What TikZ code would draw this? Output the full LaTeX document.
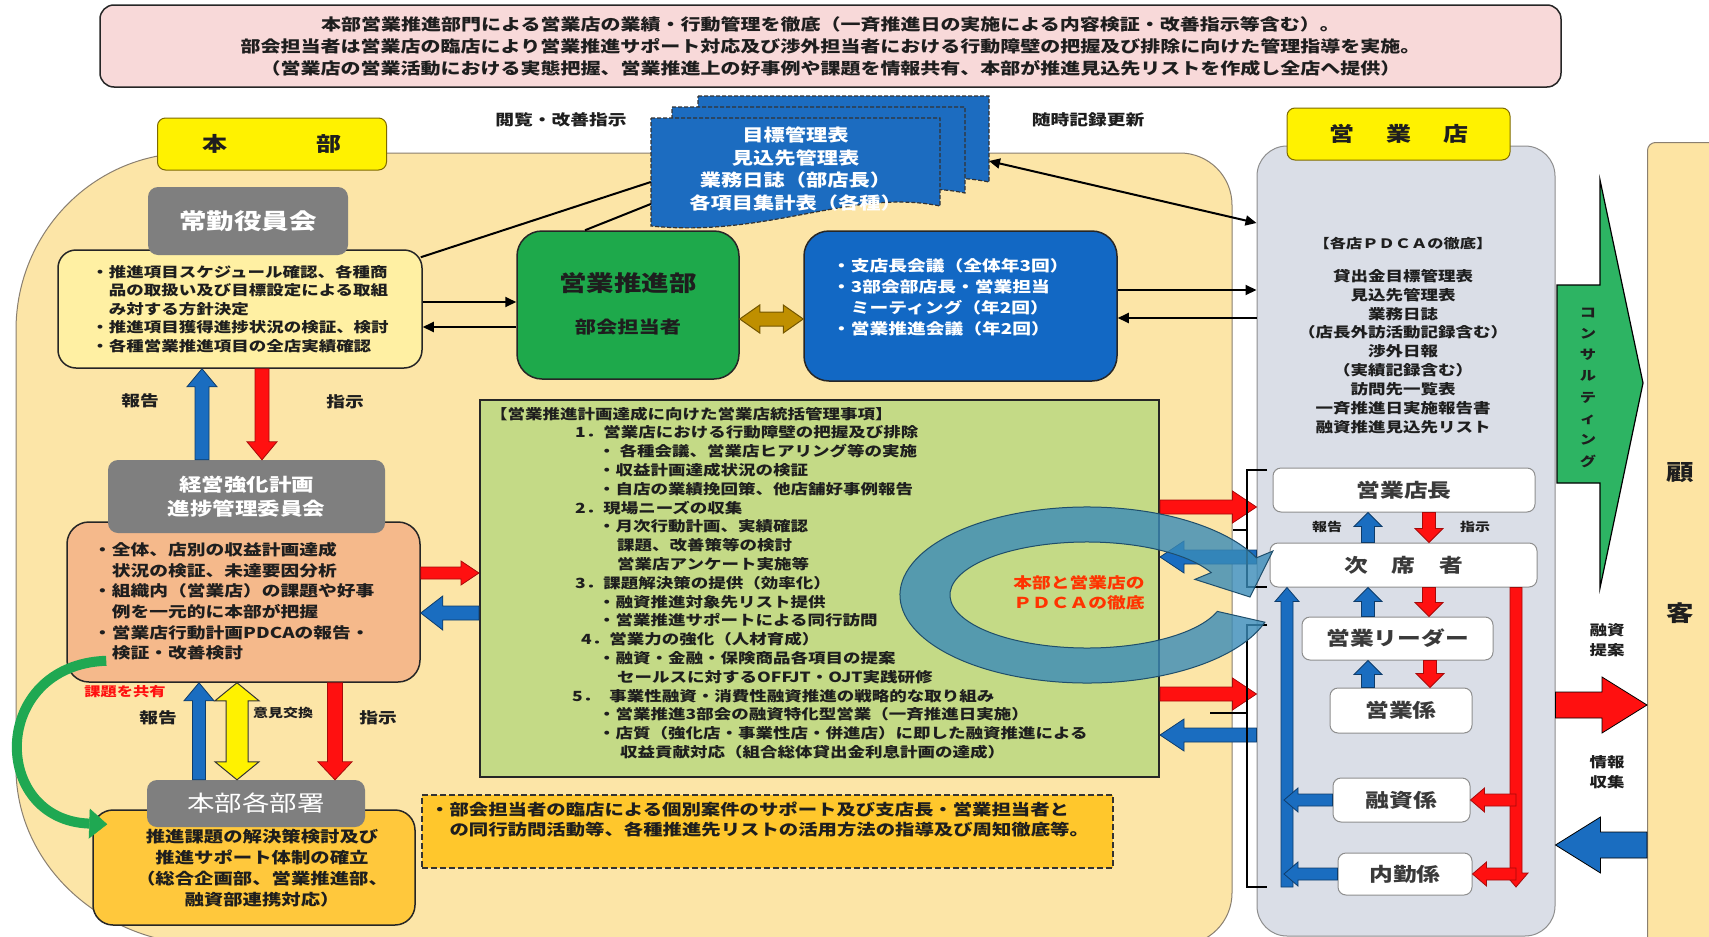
\documentclass[tikz,border=0pt]{standalone}
\usepackage{fontspec}
\setmainfont{Noto Sans CJK JP}[FakeStretch=1.25]
\usetikzlibrary{arrows.meta,calc}

\definecolor{pinkbg}{HTML}{F8D9D9}
\definecolor{hbbeige}{HTML}{FCE5A7}
\definecolor{hbedge}{HTML}{8A7F70}
\definecolor{ykfill}{HTML}{FFF0A3}
\definecolor{boardgray}{HTML}{7F7F7F}
\definecolor{eigyogreen}{HTML}{1EA94B}
\definecolor{kaigiblue}{HTML}{1268C4}
\definecolor{dblgold}{HTML}{BF8F00}
\definecolor{docblue}{HTML}{1C6CC0}
\definecolor{panelgreen}{HTML}{C4DA86}
\definecolor{hyokaorange}{HTML}{F5B98B}
\definecolor{kadaigold}{HTML}{FFC83C}
\definecolor{rintengold}{HTML}{FFC72C}
\definecolor{tenpogray}{HTML}{DADEE7}
\definecolor{tenpoedge}{HTML}{8E8E8E}
\definecolor{kokyakubg}{HTML}{FDE4A3}
\definecolor{consultgreen}{HTML}{2DB463}
\definecolor{arrred}{HTML}{FF1010}
\definecolor{arrblue}{HTML}{1A6DC0}
\definecolor{ringblue}{HTML}{3A8BB8}
\definecolor{ringedge}{HTML}{1F4E6B}
\definecolor{pdcared}{HTML}{FF3300}
\definecolor{kyoyugreen}{HTML}{1FA852}
\definecolor{ink}{HTML}{1E1E1E}
\definecolor{staffink}{HTML}{3A3A3A}
\definecolor{tagedge}{HTML}{7F6A00}

\newcommand\fsz[2]{\fontsize{#1}{#2}\selectfont}

% block arrow: [style]{from}{to}{shaft half}{head half}{head length}
\newcommand\blockarrow[6][]{%
    \path (#2) coordinate (ba-s) (#3) coordinate (ba-e);
    \path ($(ba-e)!#6pt!(ba-s)$) coordinate (ba-h);
    \filldraw[#1] ($(ba-s)!#4pt!90:(ba-e)$) -- ($(ba-h)!#4pt!90:(ba-e)$)
        -- ($(ba-h)!#5pt!90:(ba-e)$) -- (ba-e) -- ($(ba-h)!#5pt!-90:(ba-e)$)
        -- ($(ba-h)!#4pt!-90:(ba-e)$) -- ($(ba-s)!#4pt!-90:(ba-e)$) -- cycle;}

% double block arrow
\newcommand\dblarrow[6][]{%
    \path (#2) coordinate (ba-s) (#3) coordinate (ba-e);
    \path ($(ba-s)!#6pt!(ba-e)$) coordinate (ba-h1) ($(ba-e)!#6pt!(ba-s)$) coordinate (ba-h2);
    \filldraw[#1] (ba-s) -- ($(ba-h1)!#5pt!90:(ba-e)$) -- ($(ba-h1)!#4pt!90:(ba-e)$)
        -- ($(ba-h2)!#4pt!90:(ba-e)$) -- ($(ba-h2)!#5pt!90:(ba-e)$) -- (ba-e)
        -- ($(ba-h2)!#5pt!-90:(ba-e)$) -- ($(ba-h2)!#4pt!-90:(ba-e)$)
        -- ($(ba-h1)!#4pt!-90:(ba-e)$) -- ($(ba-h1)!#5pt!-90:(ba-e)$) -- cycle;}

% one sheet of the document stack
\newcommand\docpage[4]{%
    \filldraw[doc] (#1,#2) -- (#3,#2) -- (#3,#4-20)
        .. controls ({#3-0.3*(#3-#1)},#4-38) and ({#1+0.4*(#3-#1)},#4+12) .. (#1,#4) -- cycle;}

\tikzset{
    txt/.style 2 args={inner sep=0pt, text=ink, font=\bfseries\fontsize{#1}{#2}\selectfont},
    banner/.style={draw=black!85, line width=1.5pt, rounded corners=14pt, fill=pinkbg,
        align=center, inner sep=0pt, text=ink, font=\bfseries\fsz{16}{22}},
    tag/.style={draw=tagedge, line width=1pt, fill=yellow, rounded corners=8pt, inner sep=0pt,
        text=ink, font=\bfseries\fsz{20}{24}},
    box/.style={draw=black!85, line width=1.5pt, inner sep=0pt, text=ink},
    graybox/.style={fill=boardgray, rounded corners=10pt, inner sep=0pt, text=white, align=center},
    staff/.style={draw=tenpoedge, fill=white, rounded corners=8pt, line width=1pt, inner sep=0pt,
        text=staffink, font=\bfseries\fsz{19}{22}},
    doc/.style={fill=docblue, draw=black!80, line width=1.2pt, dash pattern=on 4pt off 2pt},
    dashedbox/.style={draw=black!80, line width=1.5pt, dash pattern=on 6pt off 3pt,
        fill=rintengold, inner sep=0pt},
    conn/.style={line width=2pt, -{Triangle[length=11pt,width=10pt]}},
    conn2/.style={line width=2pt, {Triangle[length=11pt,width=10pt]}-{Triangle[length=11pt,width=10pt]}},
    link/.style={line width=2pt},
    redarr/.style={fill=arrred, draw=arrred!65!black, line width=0.8pt},
    bluearr/.style={fill=arrblue, draw=arrblue!55!black, line width=0.8pt},
    yellowarr/.style={fill=yellow, draw=black!80, line width=1pt},
    goldarr/.style={fill=dblgold, draw=dblgold!60!black, line width=1pt},
    kyoyu/.style={draw=kyoyugreen, line width=10pt,
        -{Triangle[length=18pt,width=30pt,line width=0.5pt]}},
    bracket/.style={line width=1.5pt},
    pdca/.style={fill=ringblue, fill opacity=0.8, draw=ringedge, line width=1pt},
    consult/.style={fill=consultgreen, draw=black, line width=1.2pt}
}

\begin{document}
\begin{tikzpicture}[x=1pt, y=-1pt]
    \useasboundingbox (0,0) rectangle (1709,937);
    \fill[white] (0,0) rectangle (1709,937);

    % Policy banner
    \node[banner, minimum width=1461, minimum height=82] (policy) at (830.5,46)
        {本部営業推進部門による営業店の業績・行動管理を徹底（一斉推進日の実施による内容検証・改善指示等含む）。\\
         部会担当者は営業店の臨店により営業推進サポート対応及び渉外担当者における行動障壁の把握及び排除に向けた管理指導を実施。\\
         （営業店の営業活動における実態把握、営業推進上の好事例や課題を情報共有、本部が推進見込先リストを作成し全店へ提供）};

    % Head office area
    \filldraw[fill=hbbeige, draw=hbedge, line width=1pt]
        (190,153) -- (1180,153) arc[start angle=270, end angle=360, radius=52]
        -- (1232,893) arc[start angle=0, end angle=90, radius=52]
        -- (210,945) arc[start angle=90, end angle=180, x radius=194, y radius=177]
        -- (16,330) arc[start angle=180, end angle=270, x radius=174, y radius=177] -- cycle;

    % Shop column and customer column
    \node[draw=tenpoedge, fill=tenpogray, line width=1pt, rounded corners=30pt, inner sep=0pt,
        minimum width=298, minimum height=790] (tenpo) at (1406,541) {};
    \node[draw=hbedge, fill=kokyakubg, line width=1pt, rounded corners=8pt, inner sep=0pt,
        minimum width=90, minimum height=830, anchor=north west] (kokyaku) at (1647,142) {};

    % Document stack
    \docpage{698}{96}{989}{202}
    \docpage{672}{107}{965}{213}
    \docpage{651}{118}{940}{226}
    \node[txt={17}{22.7}, text=white, align=center, minimum width=289, minimum height=108] (docs)
        at (795.5,169) {目標管理表\\見込先管理表\\業務日誌（部店長）\\各項目集計表（各種）};
    \coordinate (docback) at (989,161);
    \node[txt={15}{18}] (etsuran) at (561,120) {閲覧・改善指示};
    \node[txt={15}{18}] (zuiji) at (1088,120) {随時記録更新};

    % Tags
    \node[tag, minimum width=229, minimum height=52] (honbu) at (272,144) {本\hspace{89pt}部};
    \node[tag, minimum width=223, minimum height=52] (tenpolbl) at (1398.5,134)
        {営\hspace{32pt}業\hspace{32pt}店};

    % Executive board
    \node[box, fill=ykfill, rounded corners=18pt, minimum width=364, minimum height=118,
        align=left, font=\bfseries\fsz{14}{18.5}] (shishin) at (240,309)
        {・推進項目スケジュール確認、各種商\\
         　品の取扱い及び目標設定による取組\\
         　み対する方針決定\\
         ・推進項目獲得進捗状況の検証、検討\\
         ・各種営業推進項目の全店実績確認};
    \node[graybox, minimum width=200, minimum height=68, font=\bfseries\fsz{22}{26}] (jokin)
        at (248,221) {常勤役員会};

    % Sales promotion dept and meetings
    \node[box, fill=eigyogreen, rounded corners=25pt, minimum width=222, minimum height=148] (eigyo)
        at (628,305) {};
    \node[txt={22}{26}] (eigyo-t) at (628,283) {営業推進部};
    \node[txt={17}{20}] (bukai-t) at (628,327) {部会担当者};
    \node[box, fill=kaigiblue, rounded corners=25pt, minimum width=313, minimum height=150] (kaigi)
        at (960.5,306) {};
    \node[txt={15}{21}, text=white, align=left, anchor=west] (kaigi-t) at (832,297.5)
        {・支店長会議（全体年3回）\\
         ・3部会部店長・営業担当\\
         　ミーティング（年2回）\\
         ・営業推進会議（年2回）};
    \dblarrow[goldarr]{eigyo.east |- 0,319}{kaigi.west |- 0,319}{7}{14}{20}

    % Connectors
    \draw[conn] (shishin.east |- 0,302) -- (eigyo.west |- 0,302);
    \draw[conn] (eigyo.west |- 0,327) -- (shishin.east |- 0,327);
    \draw[conn] (kaigi.east |- 0,290) -- (tenpo.west |- 0,290);
    \draw[conn] (tenpo.west |- 0,318) -- (kaigi.east |- 0,318);
    \draw[link] ($(shishin.north east)+(-2,8)$) -- (docs.west |- 0,182);
    \draw[link] ($(eigyo.north)+(-43,0)$) -- (docs.west |- 0,204);
    \draw[conn2] (docback) -- (tenpo.west |- 0,223);

    % Management items panel
    \node[box, fill=panelgreen, line width=2pt, minimum width=679, minimum height=377] (kanri)
        at (819.5,588.5) {};
    \node[txt={14}{18.8}, align=left, anchor=west] (kanri-t) at (490,583)
        {【営業推進計画達成に向けた営業店統括管理事項】\\
         \hspace*{85pt}1．営業店における行動障壁の把握及び排除\\
         \hspace*{108pt}・ 各種会議、営業店ヒアリング等の実施\\
         \hspace*{108pt}・収益計画達成状況の検証\\
         \hspace*{108pt}・自店の業績挽回策、他店舗好事例報告\\
         \hspace*{85pt}2．現場ニーズの収集\\
         \hspace*{108pt}・月次行動計画、実績確認\\
         \hspace*{127pt}課題、改善策等の検討\\
         \hspace*{127pt}営業店アンケート実施等\\
         \hspace*{85pt}3．課題解決策の提供（効率化）\\
         \hspace*{108pt}・融資推進対象先リスト提供\\
         \hspace*{108pt}・営業推進サポートによる同行訪問\\
         \hspace*{91pt}4．営業力の強化（人材育成）\\
         \hspace*{108pt}・融資・金融・保険商品各項目の提案\\
         \hspace*{127pt}セールスに対するOFFJT・OJT実践研修\\
         \hspace*{82pt}5．\hspace{9pt}事業性融資・消費性融資推進の戦略的な取り組み\\
         \hspace*{108pt}・営業推進3部会の融資特化型営業（一斉推進日実施）\\
         \hspace*{108pt}・店質（強化店・事業性店・併進店）に即した融資推進による\\
         \hspace*{130pt}収益貢献対応（組合総体貸出金利息計画の達成）};

    % Progress committee
    \node[box, fill=hyokaorange, rounded corners=22pt, minimum width=353, minimum height=160] (hyoka)
        at (243.5,602) {};
    \node[txt={15}{20.6}, align=left, anchor=west] (hyoka-t) at (93,601.5)
        {・全体、店別の収益計画達成\\
         　状況の検証、未達要因分析\\
         ・組織内（営業店）の課題や好事\\
         　例を一元的に本部が把握\\
         ・営業店行動計画PDCAの報告・\\
         　検証・改善検討};
    \node[graybox, minimum width=277, minimum height=73, font=\bfseries\fsz{18}{24}] (keiei)
        at (246.5,496.5) {経営強化計画\\進捗管理委員会};
    \blockarrow[bluearr]{202,0 |- keiei.north}{202,0 |- shishin.south}{7}{15}{18}
    \blockarrow[redarr]{262,0 |- shishin.south}{262,0 |- keiei.north}{7}{15}{18}
    \node[txt={15}{18}] (hokoku1) at (140,401) {報告};
    \node[txt={15}{18}] (shiji1) at (345,402) {指示};
    \blockarrow[redarr]{hyoka.east |- 0,573}{kanri.west |- 0,573}{6}{12}{18}
    \blockarrow[bluearr]{kanri.west |- 0,613}{hyoka.east |- 0,613}{7}{17}{22}

    % Head office departments
    \node[box, fill=kadaigold, rounded corners=20pt, minimum width=322, minimum height=115] (kadai)
        at (254,867.5) {};
    \node[txt={15.5}{21}, align=center] (kadai-t) at (262,868)
        {推進課題の解決策検討及び\\推進サポート体制の確立\\（総合企画部、営業推進部、\\融資部連携対応）};
    \node[graybox, minimum width=218, minimum height=47, font=\mdseries\fsz{22}{26}] (kakubu)
        at (256,803.5) {本部各部署};
    \blockarrow[bluearr]{199,0 |- kakubu.north}{199,0 |- hyoka.south}{6.5}{15}{18}
    \dblarrow[yellowarr]{237,0 |- hyoka.south}{237,0 |- kakubu.north}{11}{22}{18}
    \blockarrow[redarr]{335,0 |- hyoka.south}{335,0 |- kakubu.north}{7.5}{17}{18}
    \node[txt={15}{18}] (hokoku2) at (158,718) {報告};
    \node[txt={12}{14}] (iken) at (283,713) {意見交換};
    \node[txt={15}{18}] (shiji2) at (378,718) {指示};
    \draw[kyoyu] ($(hyoka.south west)+(40,-22)$) .. controls (-10,665) and (-10,820) .. ($(kadai.north west)+(15,15)$);
    \node[txt={13}{16}, text=arrred] (kyoyu-t) at (125,692) {課題を共有};

    % Support note
    \node[dashedbox, minimum width=691, minimum height=73] (rinten) at (767.5,831.5) {};
    \node[txt={15.5}{20}, align=left, anchor=west] (rinten-t) at (430,820)
        {・部会担当者の臨店による個別案件のサポート及び支店長・営業担当者と\\
         　の同行訪問活動等、各種推進先リストの活用方法の指導及び周知徹底等。};

    % Panel <-> shop
    \blockarrow[redarr]{kanri.east |- 0,507}{tenpo.west |- 0,507}{7}{16}{24}
    \blockarrow[bluearr]{tenpo.west |- 0,557}{kanri.east |- 0,557}{7}{16}{24}
    \blockarrow[redarr]{kanri.east |- 0,694}{tenpo.west |- 0,694}{7}{16}{24}
    \blockarrow[bluearr]{tenpo.west |- 0,735}{kanri.east |- 0,735}{7}{16}{24}

    % Shop contents
    \node[txt={13}{16}] (pdca-h) at (1403,244) {【各店ＰＤＣＡの徹底】};
    \node[txt={14}{18.9}, align=center] (tools) at (1403,351.5)
        {貸出金目標管理表\\見込先管理表\\業務日誌\\（店長外訪活動記録含む）\\渉外日報\\（実績記録含む）\\訪問先一覧表\\一斉推進日実施報告書\\融資推進見込先リスト};

    \node[staff, minimum width=262, minimum height=44] (tencho) at (1404,490) {営業店長};
    \node[staff, minimum width=267, minimum height=44] (jiseki) at (1403.5,565) {次　席　者};
    \node[staff, minimum width=191, minimum height=43] (leader) at (1397.5,638.5) {営業リーダー};
    \node[staff, minimum width=142, minimum height=45] (gakari) at (1401,710.5) {営業係};
    \node[staff, minimum width=137, minimum height=44] (yushi) at (1401.5,800) {融資係};
    \node[staff, minimum width=134, minimum height=42] (naikin) at (1405,874) {内勤係};

    \blockarrow[bluearr]{1368,0 |- jiseki.north}{1368,0 |- tencho.south}{6.5}{14}{14}
    \blockarrow[redarr]{1429,0 |- tencho.south}{1429,0 |- jiseki.north}{6.5}{14}{14}
    \blockarrow[bluearr]{1368,0 |- leader.north}{1368,0 |- jiseki.south}{6.5}{14}{14}
    \blockarrow[redarr]{1429,0 |- jiseki.south}{1429,0 |- leader.north}{6.5}{14}{14}
    \blockarrow[bluearr]{1368,0 |- gakari.north}{1368,0 |- leader.south}{6.5}{14}{14}
    \blockarrow[redarr]{1430,0 |- leader.south}{1430,0 |- gakari.north}{6.5}{14}{14}
    \node[txt={12}{14}] (hokoku3) at (1327,527) {報告};
    \node[txt={12}{14}] (shiji3) at (1475,527) {指示};

    \coordinate (bluefoot) at (1287,887);
    \coordinate (redfoot) at (1516,887);
    \blockarrow[bluearr]{bluefoot}{1287,0 |- jiseki.south}{6}{12}{14}
    \blockarrow[redarr]{1516,0 |- jiseki.south}{redfoot}{6}{12}{14}
    \blockarrow[bluearr]{yushi.west}{1284,0 |- yushi.west}{6}{12}{14}
    \blockarrow[bluearr]{naikin.west}{1284,0 |- naikin.west}{6}{12}{14}
    \blockarrow[redarr]{1516,0 |- yushi.east}{yushi.east}{6}{12}{14}
    \blockarrow[redarr]{1516,0 |- naikin.east}{naikin.east}{6}{12}{14}

    % Brackets
    \draw[bracket] (1267,470) -- (1247,470) -- (1247,587) -- (1267,587) (1247,530) -- (1233,530);
    \draw[bracket] (1267,625) -- (1247,625) -- (1247,887) -- (1267,887) (1247,713) -- (1210,713);

    % PDCA ring
    \coordinate (ring) at (1087,595);
    \filldraw[pdca] ($(ring)+({187*cos(18)},{88*sin(18)})$)
        arc[start angle=18, end angle=335, x radius=187, y radius=88]
        -- ($(ring)+({205*cos(335)},{104*sin(335)})$)
        -- ($(ring)+(163,2)$)
        -- ($(ring)+({119*cos(335)},{37*sin(335)})$)
        -- ($(ring)+({137*cos(335)},{53*sin(335)})$)
        arc[start angle=335, end angle=18, x radius=137, y radius=53] -- cycle;
    \node[txt={15}{20}, text=pdcared, align=center] (pdca-t) at (1079,593) {本部と営業店の\\ＰＤＣＡの徹底};

    % Consulting and customer
    \filldraw[consult] (1557,285) -- (1600,285) -- (1600,180) -- (1643,383) -- (1600,588)
        -- (1600,483) -- (1557,483) -- cycle;
    \node[txt={13}{21.3}, align=center] (consult-t) at (1588,387.5) {コ\\ン\\サ\\ル\\テ\\ィ\\ン\\グ};
    \blockarrow[redarr, draw=black]{tenpo.east |- 0,705}{kokyaku.west |- 0,705}{13}{28}{45}
    \blockarrow[bluearr, draw=black]{kokyaku.west |- 0,845}{tenpo.east |- 0,845}{13}{28}{45}
    \node[txt={14}{20}, align=center] (teian) at (1607,640) {融資\\提案};
    \node[txt={14}{20}, align=center] (shushu) at (1607,772) {情報\\収集};
    \node[txt={22}{26}] (ko) at (1680,473) {顧};
    \node[txt={22}{26}] (kyaku) at (1680,613) {客};
\end{tikzpicture}
\end{document}
